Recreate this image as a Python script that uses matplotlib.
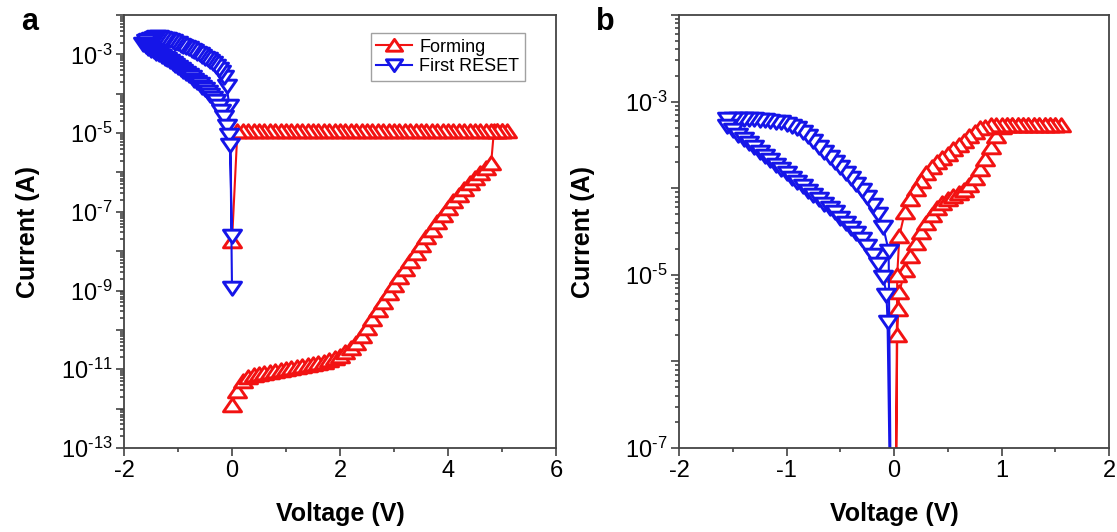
import numpy as np
import matplotlib.pyplot as plt
from matplotlib.path import Path
from matplotlib.ticker import LogLocator, MultipleLocator, FuncFormatter, NullFormatter

plt.rcParams['font.family'] = ['Liberation Sans', 'DejaVu Sans']
plt.rcParams['mathtext.fontset'] = 'custom'
plt.rcParams['mathtext.rm'] = 'Liberation Sans'
plt.rcParams['mathtext.default'] = 'regular'
plt.rcParams['axes.unicode_minus'] = False

# ---- panel a : forming (red) ----
form_fwd_v = [0.0, 0.1, 0.2, 0.3, 0.4, 0.5, 0.6, 0.7, 0.8, 0.9,
              1.0, 1.1, 1.2, 1.3, 1.4, 1.5, 1.6, 1.7, 1.8, 1.9,
              2.0, 2.1, 2.2, 2.3, 2.4, 2.5, 2.6, 2.7, 2.8, 2.9,
              3.0, 3.1, 3.2, 3.3, 3.4, 3.5, 3.6, 3.7, 3.8, 3.9,
              4.0, 4.1, 4.2, 4.3, 4.4, 4.5, 4.6, 4.7, 4.8]
form_fwd_logi = [-11.9, -11.55, -11.3, -11.2, -11.15, -11.12, -11.1, -11.07, -11.05, -11.03,
                 -11.0, -10.97, -10.95, -10.92, -10.9, -10.87, -10.84, -10.81, -10.77, -10.72,
                 -10.66, -10.57, -10.46, -10.32, -10.15, -9.95, -9.72, -9.5, -9.28, -9.07,
                 -8.86, -8.65, -8.45, -8.25, -8.05, -7.85, -7.65, -7.46, -7.27, -7.08,
                 -6.9, -6.73, -6.57, -6.42, -6.28, -6.14, -6.01, -5.88, -5.75]
# compliance part, up to 5.1 V and back down to 0 V
form_cc_v = [4.85, 4.9, 5.0, 5.1,
             5.0, 4.9, 4.8, 4.7, 4.6, 4.5, 4.4, 4.3, 4.2, 4.1,
             4.0, 3.9, 3.8, 3.7, 3.6, 3.5, 3.4, 3.3, 3.2, 3.1,
             3.0, 2.9, 2.8, 2.7, 2.6, 2.5, 2.4, 2.3, 2.2, 2.1,
             2.0, 1.9, 1.8, 1.7, 1.6, 1.5, 1.4, 1.3, 1.2, 1.1,
             1.0, 0.9, 0.8, 0.7, 0.6, 0.5, 0.4, 0.3, 0.2, 0.1,
             0.0]
form_cc_logi = [-4.95, -4.95, -4.95, -4.95,
                -4.95, -4.95, -4.95, -4.95, -4.95, -4.95, -4.95, -4.95, -4.95, -4.95,
                -4.95, -4.95, -4.95, -4.95, -4.95, -4.95, -4.95, -4.95, -4.95, -4.95,
                -4.95, -4.95, -4.95, -4.95, -4.95, -4.95, -4.95, -4.95, -4.95, -4.95,
                -4.95, -4.95, -4.95, -4.95, -4.95, -4.95, -4.95, -4.95, -4.95, -4.95,
                -4.95, -4.95, -4.95, -4.95, -4.95, -4.95, -4.95, -4.95, -4.95, -4.95,
                -7.75]

# ---- panel a : first RESET (blue) ----
reset_fwd_v = [0.0, -0.05, -0.1, -0.15, -0.2, -0.25, -0.3, -0.35, -0.4, -0.45,
               -0.5, -0.55, -0.6, -0.65, -0.7, -0.75, -0.8, -0.85, -0.9, -0.95,
               -1.0, -1.05, -1.1, -1.15, -1.2, -1.25, -1.3, -1.35, -1.4, -1.45,
               -1.5, -1.55, -1.6, -1.65]
reset_fwd_logi = [-7.62, -4.3, -3.8, -3.58, -3.45, -3.36, -3.29, -3.23, -3.18, -3.13,
                  -3.08, -3.04, -3.0, -2.96, -2.92, -2.88, -2.85, -2.81, -2.78, -2.75,
                  -2.72, -2.7, -2.67, -2.64, -2.62, -2.6, -2.58, -2.57, -2.57, -2.58,
                  -2.6, -2.63, -2.67, -2.73]
reset_back_v = [-1.6, -1.55, -1.5, -1.45, -1.4, -1.35, -1.3, -1.25, -1.2, -1.15,
                -1.1, -1.05, -1.0, -0.95, -0.9, -0.85, -0.8, -0.75, -0.7, -0.65,
                -0.6, -0.55, -0.5, -0.45, -0.4, -0.35, -0.3, -0.25, -0.2, -0.15,
                -0.1, -0.05, -0.03, 0.0]
reset_back_logi = [-2.79, -2.84, -2.88, -2.92, -2.96, -3.0, -3.04, -3.08, -3.12, -3.17,
                   -3.22, -3.27, -3.32, -3.37, -3.42, -3.47, -3.52, -3.58, -3.64, -3.7,
                   -3.76, -3.82, -3.88, -3.95, -4.02, -4.1, -4.19, -4.3, -4.43, -4.6,
                   -4.82, -5.05, -5.29, -8.94]

# ---- panel b : SET (red) ----
set_fwd_v = [0.01, 0.03, 0.04, 0.05, 0.1, 0.15, 0.2, 0.25, 0.3, 0.35,
             0.4, 0.45, 0.5, 0.55, 0.6, 0.65, 0.7, 0.75, 0.8, 0.85,
             0.9, 0.95, 1.0, 1.05, 1.1, 1.15, 1.2, 1.25, 1.3, 1.35,
             1.4, 1.45, 1.5, 1.55]
set_fwd_logi = [-9.0, -5.7, -5.4, -5.2, -4.95, -4.78, -4.63, -4.5, -4.4, -4.31,
                -4.23, -4.17, -4.12, -4.09, -4.06, -4.02, -3.96, -3.88, -3.78, -3.66,
                -3.53, -3.4, -3.29, -3.27, -3.27, -3.27, -3.27, -3.27, -3.27, -3.27,
                -3.27, -3.27, -3.27, -3.27]
set_back_v = [1.5, 1.45, 1.4, 1.35, 1.3, 1.25, 1.2, 1.15, 1.1, 1.05,
              1.0, 0.95, 0.9, 0.85, 0.8, 0.75, 0.7, 0.65, 0.6, 0.55,
              0.5, 0.45, 0.4, 0.35, 0.3, 0.25, 0.2, 0.15, 0.1, 0.05,
              0.03, 0.01]
set_back_logi = [-3.27, -3.27, -3.27, -3.27, -3.27, -3.27, -3.27, -3.27, -3.27, -3.27,
                 -3.27, -3.27, -3.27, -3.29, -3.31, -3.35, -3.4, -3.45, -3.5, -3.55,
                 -3.6, -3.65, -3.7, -3.76, -3.83, -3.92, -4.01, -4.12, -4.28, -4.55,
                 -5.0, -9.0]

# ---- panel b : RESET (blue) ----
rst_fwd_v = [-0.02, -0.05, -0.1, -0.15, -0.2, -0.25, -0.3, -0.35, -0.4, -0.45,
             -0.5, -0.55, -0.6, -0.65, -0.7, -0.75, -0.8, -0.85, -0.9, -0.95,
             -1.0, -1.05, -1.1, -1.15, -1.2, -1.25, -1.3, -1.35, -1.4, -1.45,
             -1.5, -1.55]
rst_fwd_logi = [-9.0, -4.72, -4.45, -4.3, -4.19, -4.1, -4.02, -3.95, -3.88, -3.82,
                -3.76, -3.7, -3.64, -3.58, -3.52, -3.46, -3.4, -3.35, -3.31, -3.28,
                -3.26, -3.24, -3.23, -3.22, -3.21, -3.21, -3.2, -3.2, -3.2, -3.2,
                -3.2, -3.2]
rst_back_v = [-1.55, -1.5, -1.45, -1.4, -1.35, -1.3, -1.25, -1.2, -1.15, -1.1,
              -1.05, -1.0, -0.95, -0.9, -0.85, -0.8, -0.75, -0.7, -0.65, -0.6,
              -0.55, -0.5, -0.45, -0.4, -0.35, -0.3, -0.25, -0.2, -0.15, -0.1,
              -0.07, -0.06, -0.02]
rst_back_logi = [-3.28, -3.33, -3.38, -3.43, -3.48, -3.53, -3.58, -3.63, -3.68, -3.73,
                 -3.78, -3.83, -3.88, -3.93, -3.98, -4.03, -4.08, -4.13, -4.18, -4.23,
                 -4.28, -4.34, -4.4, -4.46, -4.52, -4.59, -4.67, -4.77, -4.88, -5.02,
                 -5.23, -5.54, -9.0]

RED = '#f21212'
BLUE = '#1515e8'
# slightly flattened triangles, closed so they get filled
UP = Path([(-1, -0.7), (1, -0.7), (0, 0.75), (-1, -0.7)], closed=True)
DOWN = Path([(-1, 0.7), (1, 0.7), (0, -0.75), (-1, 0.7)], closed=True)


def curve(ax, v, logi, color, marker, label=None):
    ax.plot(v, 10.0 ** np.array(logi), color=color, lw=1.5, marker=marker,
            ms=13, mfc='white', mec=color, mew=2.1, label=label)


def odd_decades(val, pos):
    e = int(round(np.log10(val)))
    return r'$10^{\text{-}%d}$' % -e if e % 2 else ''


def style(ax, xlim, xmaj, xmin, ylim):
    ax.set_yscale('log')
    ax.set_xlim(*xlim)
    ax.set_ylim(*ylim)
    ax.xaxis.set_major_locator(MultipleLocator(xmaj))
    ax.xaxis.set_minor_locator(MultipleLocator(xmin))
    ax.yaxis.set_major_locator(LogLocator(base=10, numticks=30))
    ax.yaxis.set_minor_locator(LogLocator(base=10, subs=np.arange(2, 10), numticks=30))
    ax.yaxis.set_major_formatter(FuncFormatter(odd_decades))
    ax.yaxis.set_minor_formatter(NullFormatter())
    ax.tick_params(which='both', direction='out', width=1.1, colors='#333333',
                   labelcolor='black', labelsize=17, top=False, right=False)
    ax.tick_params(which='major', length=5.5, pad=3)
    ax.tick_params(which='minor', length=3)
    for s in ax.spines.values():
        s.set_color('#444444')
        s.set_linewidth(1.3)
    ax.set_xlabel('Voltage (V)', fontsize=18, fontweight='bold')
    ax.set_ylabel('Current (A)', fontsize=18, fontweight='bold')
    ax.xaxis.set_label_coords(0.5, -0.125)
    ax.yaxis.set_label_coords(-0.195, 0.5)


fig = plt.figure(figsize=(11.17, 5.32), dpi=100)
ax_a = fig.add_axes([124 / 1117, 84 / 532, 432 / 1117, 433 / 532])
ax_b = fig.add_axes([679 / 1117, 84 / 532, 430 / 1117, 433 / 532])

curve(ax_a, form_fwd_v + form_cc_v, form_fwd_logi + form_cc_logi, RED, UP, 'Forming')
curve(ax_a, reset_fwd_v + reset_back_v, reset_fwd_logi + reset_back_logi, BLUE, DOWN, 'First RESET')
style(ax_a, (-2, 6), 2, 1, (1e-13, 1e-2))
leg = ax_a.legend(loc='upper right', bbox_to_anchor=(0.928, 0.958), borderaxespad=0,
                  fontsize=13, frameon=True, fancybox=False, edgecolor='#8a8a8a',
                  handlelength=2.0, handletextpad=0.4, borderpad=0.3, labelspacing=0.15,
                  markerscale=0.9)
leg.get_frame().set_linewidth(1.0)

curve(ax_b, set_fwd_v + set_back_v, set_fwd_logi + set_back_logi, RED, UP)
curve(ax_b, rst_fwd_v + rst_back_v, rst_fwd_logi + rst_back_logi, BLUE, DOWN)
style(ax_b, (-2, 2), 1, 0.5, (1e-7, 1e-2))

fig.text(30 / 1117, 1 - 22 / 532, 'a', fontsize=22, fontweight='bold', ha='center', va='center')
fig.text(605 / 1117, 1 - 22 / 532, 'b', fontsize=22, fontweight='bold', ha='center', va='center')

fig.savefig('out.png', dpi=100)
